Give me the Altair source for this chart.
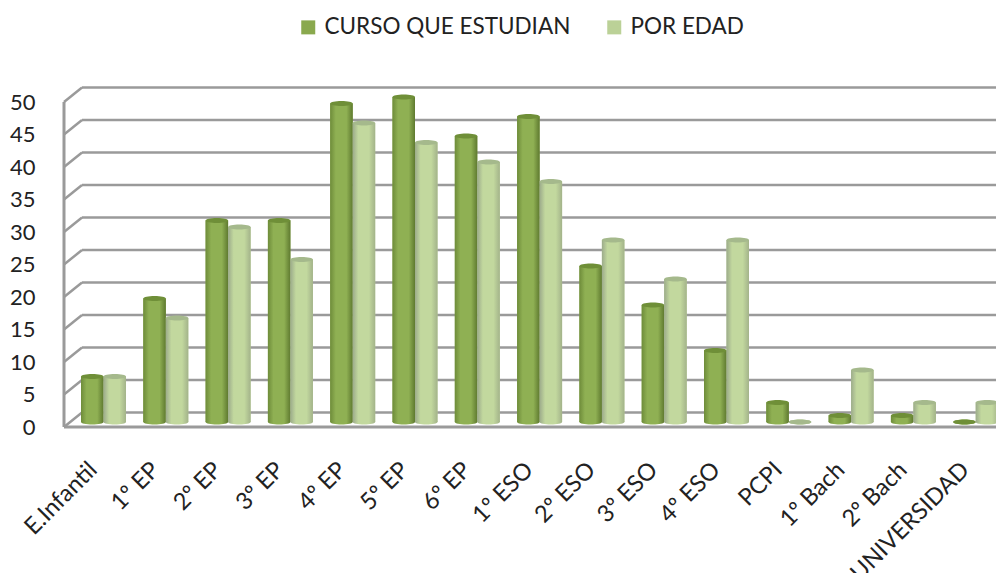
import altair as alt
import pandas as pd

categorias = ["E.Infantil", "1º EP", "2º EP", "3º EP", "4º EP", "5º EP", "6º EP", "1º ESO",
              "2º ESO", "3º ESO", "4º ESO", "PCPI", "1º Bach", "2º Bach", "UNIVERSIDAD"]
curso = [7, 19, 31, 31, 49, 50, 44, 47, 24, 18, 11, 3, 1, 1, 0]
edad = [7, 16, 30, 25, 46, 43, 40, 37, 28, 22, 28, 0, 8, 3, 3]
series = ["CURSO QUE ESTUDIAN", "POR EDAD"]
colores = ["#8AA94E", "#BBD197"]
ticks = list(range(0, 55, 5))

rows = []
for c, a, b in zip(categorias, curso, edad):
    rows.append({"cat": c, "serie": series[0], "valor": a})
    rows.append({"cat": c, "serie": series[1], "valor": b})
df = pd.DataFrame(rows)
grid = pd.DataFrame({"v": ticks})

FONT = "Lato"
TXT = "#222222"
W, H = 934, 325
GRID = "#9A9A9A"
CAP = "M-1,0A1,0.22 0 1,1 1,0A1,0.22 0 1,1 -1,0Z"


def grad(a, b, c):
    return alt.Gradient(
        gradient="linear", x1=0, x2=1, y1=0, y2=0,
        stops=[alt.GradientStop(offset=0, color=a),
               alt.GradientStop(offset=0.25, color=b),
               alt.GradientStop(offset=0.72, color=b),
               alt.GradientStop(offset=1, color=c)],
    )


fills = {
    series[0]: (grad("#6E8C3A", "#8FB053", "#5F7A30"), "#6F8F38"),
    series[1]: (grad("#9CAB8B", "#C2D89E", "#A3B38A"), "#A5B98C"),
}

x_enc = alt.X("cat:N", sort=categorias, title=None,
              scale=alt.Scale(domain=categorias, range=[10.35, 944.85],
                              paddingInner=0.278, paddingOuter=0.139),
              axis=alt.Axis(labelAngle=-45, labelAlign="right", labelBaseline="middle",
                            labelFont=FONT, labelFontSize=23.5, labelColor=TXT, labelPadding=39,
                            labelOffset=-10,
                            labelOverlap=False, labelLimit=300, labelBound=False, labelFlush=False,
                            domain=False, ticks=False, grid=False))
xo_enc = alt.XOffset("serie:N", scale=alt.Scale(domain=series, paddingInner=0, paddingOuter=0))
y_scale = alt.Scale(domain=[0, 50], nice=False, zero=True)
y_axis = alt.Axis(values=ticks, tickCount=11, labelFont=FONT, labelFontSize=22, labelColor=TXT,
                  labelOverlap=False, labelPadding=27, domain=False, ticks=False, grid=False)
y_enc = alt.Y("valor:Q", scale=y_scale, title=None, axis=y_axis)
y_grid = alt.Y("v:Q", scale=y_scale, title=None, axis=y_axis)
y_zero = alt.Y(datum=0, scale=y_scale, title=None, axis=y_axis)

# Wall and floor lines
back = alt.Chart(grid).mark_rule(color=GRID, strokeWidth=2.5, yOffset=-14.5).encode(
    y=y_grid, x=alt.value(20), x2=alt.value(W))
diag = alt.Chart(grid).mark_rule(color=GRID, strokeWidth=2.5, y2Offset=-14.5).encode(
    y=y_grid, y2="v:Q", x=alt.value(2), x2=alt.value(20))
left = alt.Chart(grid).transform_filter(alt.datum.v == 0).mark_rule(color=GRID, strokeWidth=3).encode(
    y=y_grid, y2=alt.datum(50), x=alt.value(2))
floor = alt.Chart(grid).transform_filter(alt.datum.v == 0).mark_rule(color=GRID, strokeWidth=3).encode(
    y=y_grid, x=alt.value(2), x2=alt.value(W))

# Flat bars carry the legend
base = alt.Chart(df).mark_bar(yOffset=-5, y2Offset=-5, opacity=1).encode(
    x=x_enc, xOffset=xo_enc, y=y_enc, y2=alt.datum(0),
    color=alt.Color("serie:N", scale=alt.Scale(domain=series, range=colores), title=None,
                    legend=alt.Legend(orient="none", legendX=235, legendY=-86, direction="horizontal",
                                      columns=2, symbolType="square", symbolSize=196, symbolStrokeWidth=0,
                                      labelFont=FONT, labelFontSize=22.5, labelColor=TXT, labelLimit=400,
                                      columnPadding=32, symbolOffset=0, labelOffset=5)))

layers = [back, diag, left, floor, base]
for s in series:
    g, cap = fills[s]
    sub = alt.Chart(df).transform_filter(alt.datum.serie == s)
    bottom = sub.mark_point(shape=CAP, size=506, filled=True, fill=g, opacity=1, strokeWidth=0,
                            yOffset=-5).encode(x=x_enc, xOffset=xo_enc, y=y_zero)
    bar = sub.mark_bar(fill=g, yOffset=-5, y2Offset=-5).encode(x=x_enc, xOffset=xo_enc, y=y_enc, y2=alt.datum(0))
    top = sub.mark_point(shape=CAP, size=506, filled=True, fill=cap, opacity=1, strokeWidth=0,
                         yOffset=-5).encode(x=x_enc, xOffset=xo_enc, y=y_enc)
    layers += [bottom, bar, top]

chart = alt.layer(*layers).properties(
    width=W, height=H,
    padding={"left": 54, "top": 94, "right": 0, "bottom": 146},
    autosize=alt.AutoSizeParams(type="none"),
    background="white",
).configure_view(stroke=None)

chart.save("out.html", embed_options={"renderer": "svg", "actions": False})
